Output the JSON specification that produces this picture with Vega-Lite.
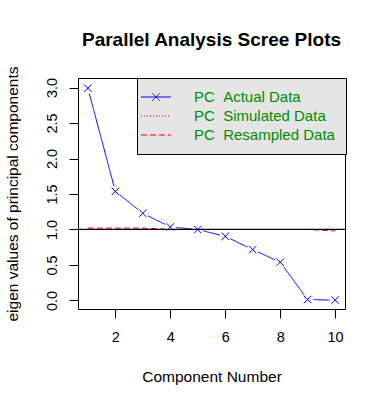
{
  "$schema": "https://vega.github.io/schema/vega-lite/v6.json",
  "width": 267,
  "height": 231,
  "autosize": "none",
  "padding": {"left": 78, "top": 78, "right": 41, "bottom": 98},
  "title": {"text": "Parallel Analysis Scree Plots", "fontSize": 19, "font": "Liberation Sans", "fontWeight": "bold", "color": "black", "anchor": "middle", "offset": 16},
  "config": {
    "view": {"stroke": "black", "strokeWidth": 1},
    "font": "Liberation Sans",
    "axis": {"domain": false, "grid": false, "tickColor": "black", "tickSize": 9, "labelColor": "black", "titleColor": "black", "labelFont": "Liberation Sans", "titleFont": "Liberation Sans", "labelFontSize": 14.5, "titleFontSize": 15.5, "titleFontWeight": "normal"}
  },
  "datasets": {
    "ev": [
      {"series": "Actual", "comp": 1, "value": 2.99},
      {"series": "Actual", "comp": 2, "value": 1.537},
      {"series": "Actual", "comp": 3, "value": 1.228},
      {"series": "Actual", "comp": 4, "value": 1.036},
      {"series": "Actual", "comp": 5, "value": 0.999},
      {"series": "Actual", "comp": 6, "value": 0.904},
      {"series": "Actual", "comp": 7, "value": 0.717},
      {"series": "Actual", "comp": 8, "value": 0.539},
      {"series": "Actual", "comp": 9, "value": 0.014},
      {"series": "Actual", "comp": 10, "value": 0.004},
      {"series": "Resampled", "comp": 1, "value": 1.02},
      {"series": "Resampled", "comp": 2, "value": 1.02},
      {"series": "Resampled", "comp": 3, "value": 1.02},
      {"series": "Resampled", "comp": 4, "value": 1.0},
      {"series": "Resampled", "comp": 5, "value": 1.0},
      {"series": "Resampled", "comp": 6, "value": 1.0},
      {"series": "Resampled", "comp": 7, "value": 1.0},
      {"series": "Resampled", "comp": 8, "value": 1.0},
      {"series": "Resampled", "comp": 9, "value": 1.0},
      {"series": "Resampled", "comp": 10, "value": 0.98}
    ]
  },
  "data": {"name": "ev"},
  "encoding": {
    "x": {"field": "comp", "type": "quantitative", "scale": {"domain": [0.64, 10.36], "nice": false, "zero": false},
      "axis": {"values": [2, 4, 6, 8, 10], "title": "Component Number", "labelPadding": 12, "titlePadding": 26, "labelFlush": false}},
    "y": {"field": "value", "type": "quantitative", "scale": {"domain": [-0.12, 3.134], "nice": false, "zero": false},
      "axis": {"values": [0, 0.5, 1, 1.5, 2, 2.5, 3], "format": ".1f", "title": "eigen values of principal components", "labelAngle": -90, "labelAlign": "center", "labelBaseline": "alphabetic", "labelPadding": 13, "titlePadding": 24, "labelFlush": false}}
  },
  "layer": [
    {
      "mark": {"type": "line", "strokeWidth": 1},
      "encoding": {
        "color": {"field": "series", "type": "nominal",
          "scale": {"domain": ["Actual", "Simulated", "Resampled"], "range": ["blue", "red", "red"]},
          "legend": {"title": null, "orient": "none", "legendX": 59, "legendY": 0, "fillColor": "#E5E5E5", "strokeColor": "black", "padding": 11, "labelColor": "#008B00", "labelFont": "Liberation Sans", "labelFontSize": 15, "labelOffset": 30, "rowPadding": 3, "symbolSize": 225, "symbolStrokeWidth": 1, "symbolType": "stroke",
            "labelExpr": "'PC\u00a0\u00a0' + datum.label + ' Data'",
            "encode": {"symbols": {"update": {
              "shape": {"signal": "datum.value == 'Actual' ? 'M-2,0H2M-0.5,-0.5L0.5,0.5M-0.5,0.5L0.5,-0.5' : 'M-2,0H2'"},
              "fill": {"value": "transparent"},
              "stroke": {"scale": "color", "field": "value"},
              "strokeDash": {"scale": "strokeDash", "field": "value"}}}}}},
        "strokeDash": {"field": "series", "type": "nominal",
          "scale": {"domain": ["Actual", "Simulated", "Resampled"], "range": [[1, 0], [1, 2], [6, 3]]},
          "legend": null}
      }
    },
    {
      "transform": [{"filter": "datum.series == 'Actual'"}],
      "mark": {"type": "point", "filled": true, "fill": "white", "opacity": 1, "size": 130, "shape": "circle", "strokeWidth": 0}
    },
    {
      "mark": {"type": "rule", "color": "black", "strokeWidth": 1},
      "encoding": {"y": {"datum": 1}, "x": {"value": 0}, "x2": {"value": 267}}
    },
    {
      "transform": [{"filter": "datum.series == 'Actual'"}],
      "mark": {"type": "point", "filled": false, "stroke": "blue", "opacity": 1, "size": 55, "strokeWidth": 1, "shape": "M-1,-1L1,1M-1,1L1,-1"}
    }
  ]
}
